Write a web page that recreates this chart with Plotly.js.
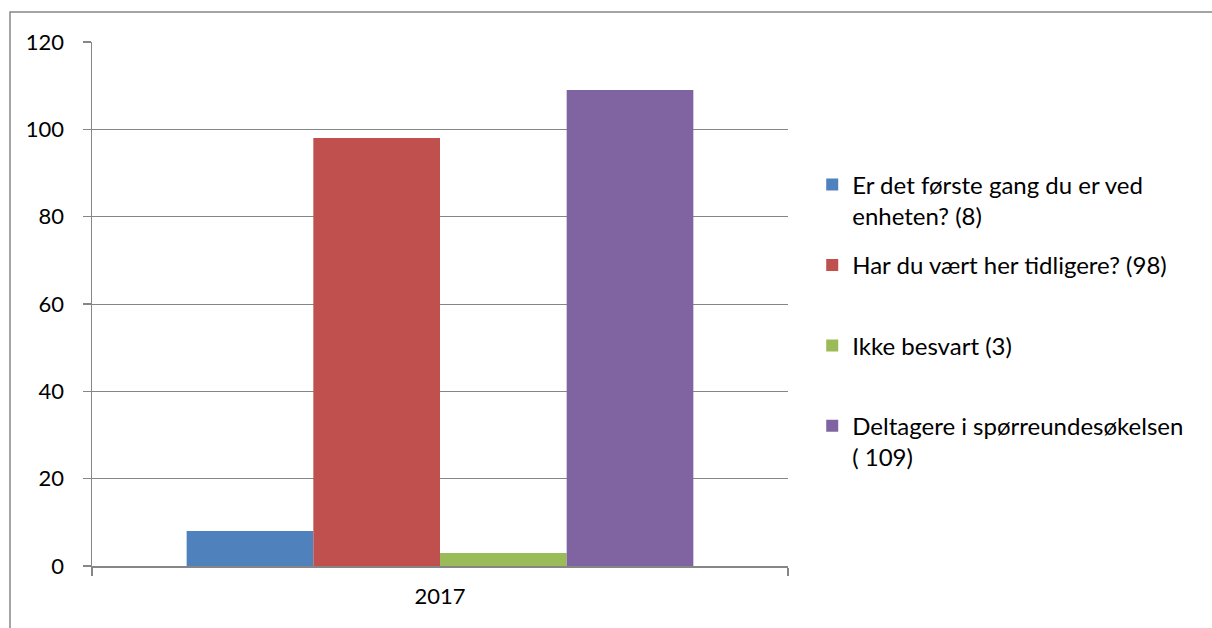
<!DOCTYPE html>
<html>
<head>
<meta charset="utf-8">
<script src="https://cdn.plot.ly/plotly-3.0.1.min.js"></script>
<style>
  html, body { margin: 0; padding: 0; background: #fff; }
  #chart { width: 1212px; height: 628px; }
</style>
</head>
<body>
<div id="chart"></div>
<script>
// ---- data ----
const categories = ["2017"];
const seriesNames = [
  "Er det første gang du er ved<br>enheten? (8)",
  "Har du vært her tidligere? (98)<br>\u00a0",
  "Ikke besvart (3)<br>\u00a0",
  "Deltagere i spørreundesøkelsen<br>( 109)"
];
const valuesFirstTime = [8];
const valuesBeenBefore = [98];
const valuesNotAnswered = [3];
const valuesParticipants = [109];
const yTickValues = [0, 20, 40, 60, 80, 100, 120];

const seriesValues = [valuesFirstTime, valuesBeenBefore, valuesNotAnswered, valuesParticipants];
const seriesColors = ["#4F81BD", "#C0504D", "#9BBB59", "#8064A2"];

const traces = seriesValues.map((vals, i) => ({
  type: "bar",
  x: categories,
  y: vals,
  name: seriesNames[i],
  legendgroup: "g" + i,
  marker: { color: seriesColors[i], line: { width: 0 } },
  hoverinfo: "skip"
}));

const FONT = "Lato, 'Open Sans', sans-serif";
const gray = "#868686";

const layout = {
  width: 1212,
  height: 628,
  margin: { l: 92, r: 424, t: 42, b: 62, pad: 0 },
  paper_bgcolor: "#ffffff",
  plot_bgcolor: "#ffffff",
  font: { family: FONT, size: 22, color: "#000000" },
  barmode: "group",
  bargap: 0.272,
  bargroupgap: 0,
  showlegend: true,
  legend: {
    x: 1.0348,
    xanchor: "left",
    y: 0.77,
    yanchor: "top",
    font: { family: FONT, size: 24, color: "#000" },
    valign: "top",
    tracegroupgap: 15,
    bgcolor: "rgba(0,0,0,0)",
    itemclick: false,
    itemdoubleclick: false
  },
  xaxis: {
    type: "category",
    showline: true,
    linecolor: gray,
    linewidth: 1.5,
    ticks: "outside",
    tickson: "boundaries",
    ticklen: 8,
    tickcolor: gray,
    tickwidth: 1.5,
    showgrid: false,
    zeroline: false,
    tickfont: { family: FONT, size: 22, color: "#000" },
    ticklabelstandoff: 10
  },
  yaxis: {
    range: [0, 120],
    tickvals: yTickValues,
    showline: true,
    linecolor: gray,
    linewidth: 1.5,
    ticks: "outside",
    ticklen: 8,
    tickcolor: gray,
    tickwidth: 1.5,
    showgrid: true,
    gridcolor: gray,
    gridwidth: 1,
    zeroline: false,
    tickfont: { family: FONT, size: 22, color: "#000" },
    ticklabelstandoff: 14
  },
  shapes: [{
    type: "rect",
    xref: "paper", yref: "paper",
    x0: (10 - 92) / 696, x1: 1.8,
    y0: -0.5, y1: (566 - 12) / 524,
    line: { color: gray, width: 1.5 },
    fillcolor: "rgba(0,0,0,0)",
    layer: "below"
  }]
};

Plotly.newPlot("chart", traces, layout, { staticPlot: true, displayModeBar: false });
</script>
</body>
</html>
